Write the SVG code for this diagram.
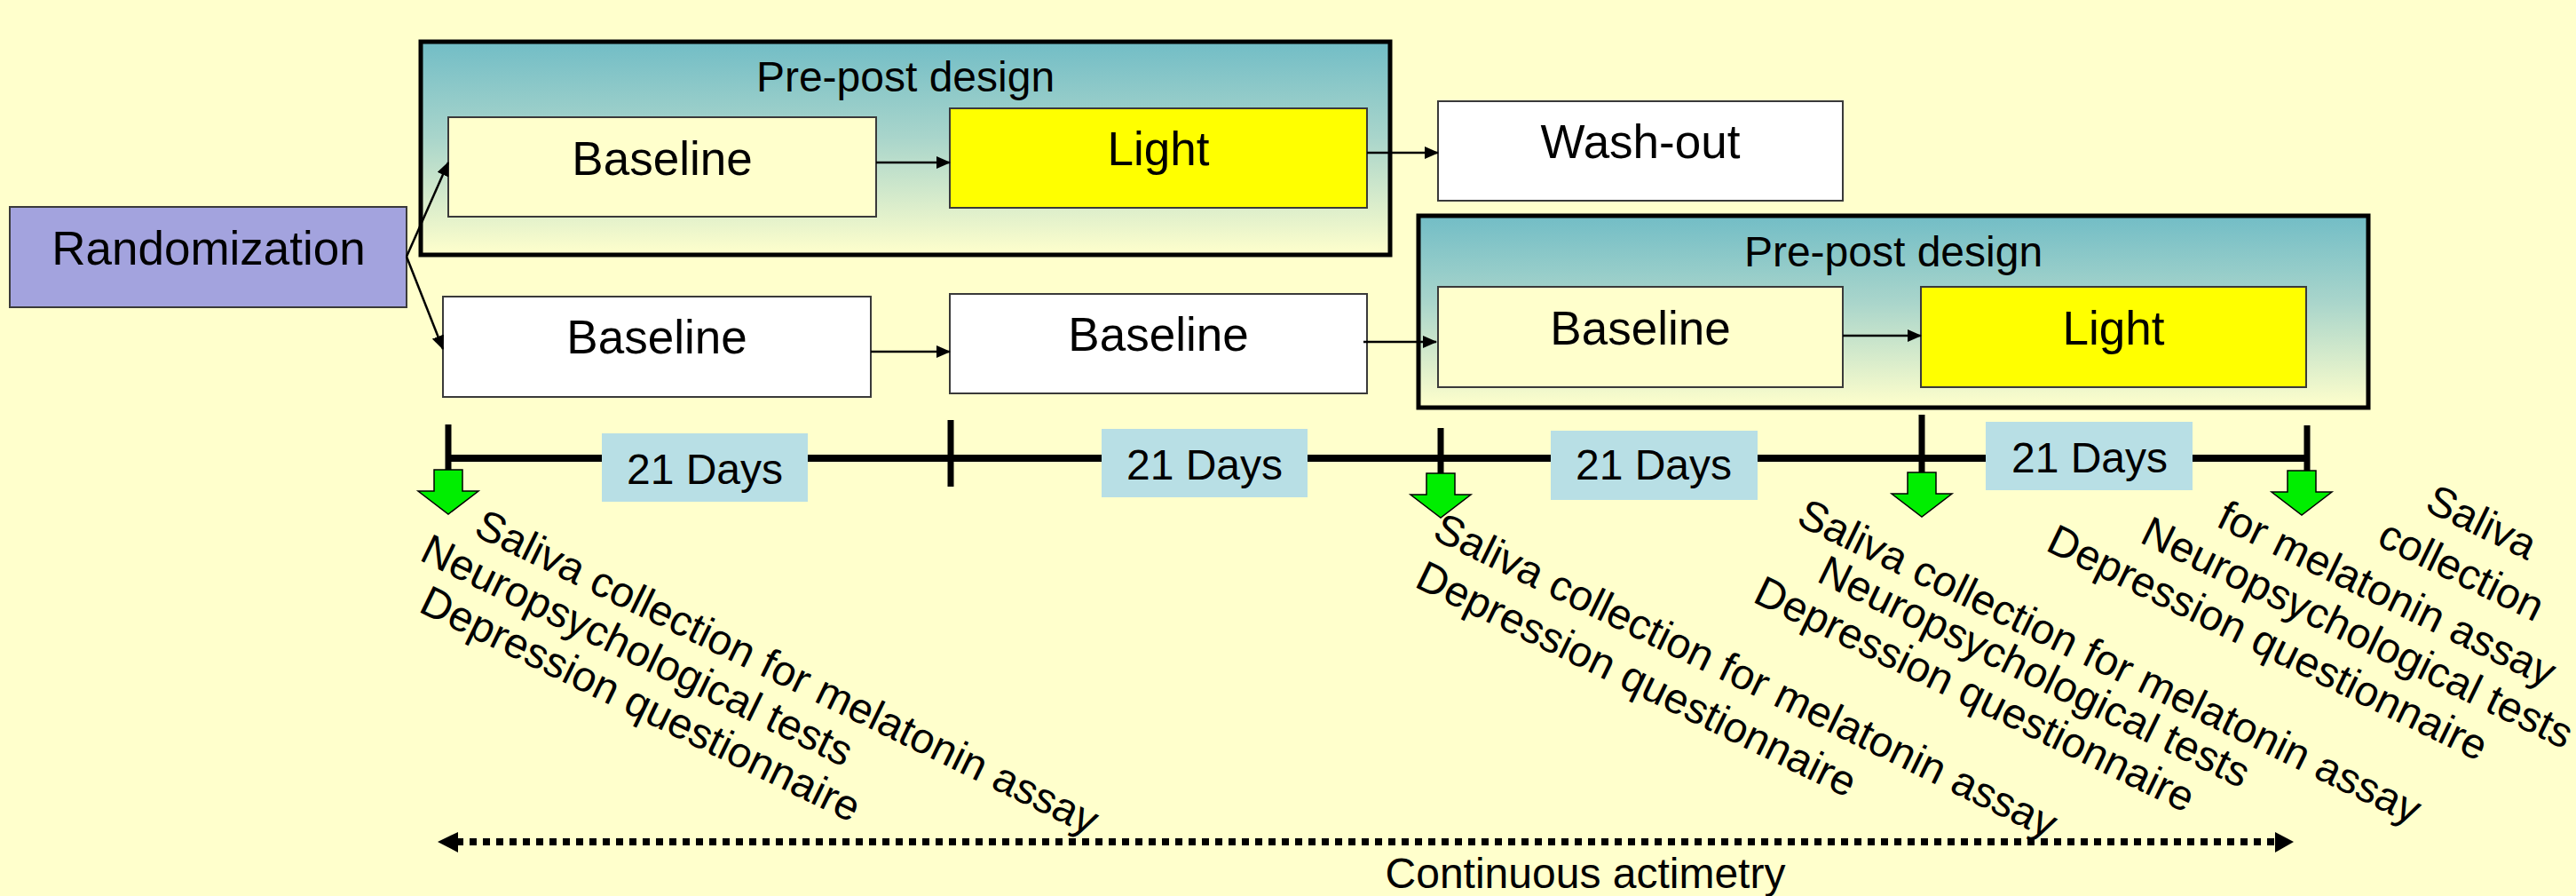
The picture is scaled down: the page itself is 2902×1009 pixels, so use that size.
<svg xmlns="http://www.w3.org/2000/svg" width="2902" height="1009" viewBox="0 0 2902 1009">
  <defs>
    <linearGradient id="teal" x1="0" y1="0" x2="0" y2="1">
      <stop offset="0" stop-color="#72bdc6"/>
      <stop offset="0.45" stop-color="#a9d5cb"/>
      <stop offset="1" stop-color="#ffffcc"/>
    </linearGradient>
    <marker id="ah" markerWidth="16" markerHeight="14" refX="15" refY="7" orient="auto" markerUnits="userSpaceOnUse">
      <path d="M0,0 L16,7 L0,14 z" fill="#000"/>
    </marker>
    <path id="drop" d="M-16,0 H16 V24 H34 L0,50 L-34,24 H-16 Z"/>
  </defs>
  <style>
    text { font-family: "Liberation Sans", Arial, sans-serif; fill: #000; }
    .lbl { font-size: 53px; text-anchor: middle; }
    .hdr { font-size: 48px; text-anchor: middle; }
    .days { font-size: 48px; text-anchor: middle; }
    .note { font-size: 48px; }
    .box { stroke: #3a3a3a; stroke-width: 2; }
    .frame { fill: url(#teal); stroke: #000; stroke-width: 5; }
    .link { stroke: #000; stroke-width: 2.5; fill: none; marker-end: url(#ah); }
    .tick { stroke: #000; stroke-width: 7; }
    .daybox { fill: #b8dfe5; }
    .drop { fill: #00ee00; stroke: #000; stroke-width: 1.5; }
  </style>

  <rect width="2902" height="1009" fill="#ffffcc"/>

  <!-- study arm frames -->
  <g id="prepost-1">
    <rect class="frame" x="474" y="47" width="1092" height="240"/>
    <text class="hdr" x="1020" y="103">Pre-post design</text>
  </g>
  <g id="prepost-2">
    <rect class="frame" x="1598" y="243" width="1070" height="216"/>
    <text class="hdr" x="2133" y="300">Pre-post design</text>
  </g>

  <!-- nodes -->
  <g id="randomization">
    <rect class="box" x="11" y="233" width="447" height="113" fill="#a3a3de"/>
    <text class="lbl" x="235" y="298">Randomization</text>
  </g>
  <g id="baseline-a1">
    <rect class="box" x="505" y="132" width="482" height="112" fill="#ffffcc"/>
    <text class="lbl" x="746" y="197">Baseline</text>
  </g>
  <g id="light-a">
    <rect class="box" x="1070" y="122" width="470" height="112" fill="#ffff00"/>
    <text class="lbl" x="1305" y="186">Light</text>
  </g>
  <g id="washout">
    <rect class="box" x="1620" y="114" width="456" height="112" fill="#ffffff"/>
    <text class="lbl" x="1848" y="178">Wash-out</text>
  </g>
  <g id="baseline-b1">
    <rect class="box" x="499" y="334" width="482" height="113" fill="#ffffff"/>
    <text class="lbl" x="740" y="398">Baseline</text>
  </g>
  <g id="baseline-b2">
    <rect class="box" x="1070" y="331" width="470" height="112" fill="#ffffff"/>
    <text class="lbl" x="1305" y="395">Baseline</text>
  </g>
  <g id="baseline-b3">
    <rect class="box" x="1620" y="323" width="456" height="113" fill="#ffffcc"/>
    <text class="lbl" x="1848" y="388">Baseline</text>
  </g>
  <g id="light-b">
    <rect class="box" x="2164" y="323" width="434" height="113" fill="#ffff00"/>
    <text class="lbl" x="2381" y="388">Light</text>
  </g>

  <!-- connectors -->
  <g id="connectors">
    <line class="link" x1="458" y1="289" x2="505" y2="183"/>
    <line class="link" x1="458" y1="289" x2="499" y2="393"/>
    <line class="link" x1="987" y1="183" x2="1070" y2="183"/>
    <line class="link" x1="1540" y1="172" x2="1620" y2="172"/>
    <line class="link" x1="981" y1="396" x2="1070" y2="396"/>
    <line class="link" x1="1536" y1="385" x2="1618" y2="385"/>
    <line class="link" x1="2076" y1="378" x2="2164" y2="378"/>
  </g>

  <!-- timeline -->
  <g id="timeline">
    <line x1="505" y1="516" x2="2599" y2="516" stroke="#000" stroke-width="8"/>
    <line class="tick" x1="505" y1="478" x2="505" y2="529"/>
    <line class="tick" x1="1071" y1="473" x2="1071" y2="548"/>
    <line class="tick" x1="1623" y1="482" x2="1623" y2="533"/>
    <line class="tick" x1="2165" y1="467" x2="2165" y2="532"/>
    <line class="tick" x1="2599" y1="479" x2="2599" y2="530"/>
  </g>

  <g id="period-1">
    <rect class="daybox" x="678" y="488" width="232" height="77"/>
    <text class="days" x="794" y="545">21 Days</text>
  </g>
  <g id="period-2">
    <rect class="daybox" x="1241" y="483" width="232" height="77"/>
    <text class="days" x="1357" y="540">21 Days</text>
  </g>
  <g id="period-3">
    <rect class="daybox" x="1747" y="485" width="233" height="78"/>
    <text class="days" x="1863" y="540">21 Days</text>
  </g>
  <g id="period-4">
    <rect class="daybox" x="2237" y="475" width="233" height="77"/>
    <text class="days" x="2354" y="532">21 Days</text>
  </g>

  <!-- assessment markers -->
  <g id="assessments">
    <use href="#drop" class="drop" x="505" y="529"/>
    <use href="#drop" class="drop" x="1623" y="533"/>
    <use href="#drop" class="drop" x="2165" y="532"/>
    <use href="#drop" class="drop" x="2593" y="530"/>
  </g>

  <!-- assessment notes -->
  <g id="notes-1">
    <text class="note" transform="translate(532,602) rotate(26)">Saliva collection for melatonin assay</text>
    <text class="note" transform="translate(471,630) rotate(26)">Neuropsychological tests</text>
    <text class="note" transform="translate(470,688) rotate(26)">Depression questionnaire</text>
  </g>
  <g id="notes-2">
    <text class="note" transform="translate(1612,606) rotate(26)">Saliva collection for melatonin assay</text>
    <text class="note" transform="translate(1592,660) rotate(26)">Depression questionnaire</text>
  </g>
  <g id="notes-3">
    <text class="note" transform="translate(2022,590) rotate(26)">Saliva collection for melatonin assay</text>
    <text class="note" transform="translate(2045,654) rotate(26)">Neuropsychological tests</text>
    <text class="note" transform="translate(1973,677) rotate(26)">Depression questionnaire</text>
  </g>
  <g id="notes-4">
    <text class="note" transform="translate(2730,574) rotate(26)">Saliva</text>
    <text class="note" transform="translate(2676,613) rotate(26)">collection</text>
    <text class="note" transform="translate(2495,592) rotate(26)">for melatonin assay</text>
    <text class="note" transform="translate(2409,610) rotate(26)">Neuropsychological tests</text>
    <text class="note" transform="translate(2303,619) rotate(26)">Depression questionnaire</text>
  </g>

  <!-- actimetry span -->
  <g id="actimetry">
    <line x1="514" y1="948" x2="2566" y2="948" stroke="#000" stroke-width="8" stroke-dasharray="8 7"/>
    <polygon points="493,948 516,937 516,960" fill="#000"/>
    <polygon points="2584,948 2563,937 2563,960" fill="#000"/>
    <text class="days" x="1786" y="1000">Continuous actimetry</text>
  </g>
</svg>
